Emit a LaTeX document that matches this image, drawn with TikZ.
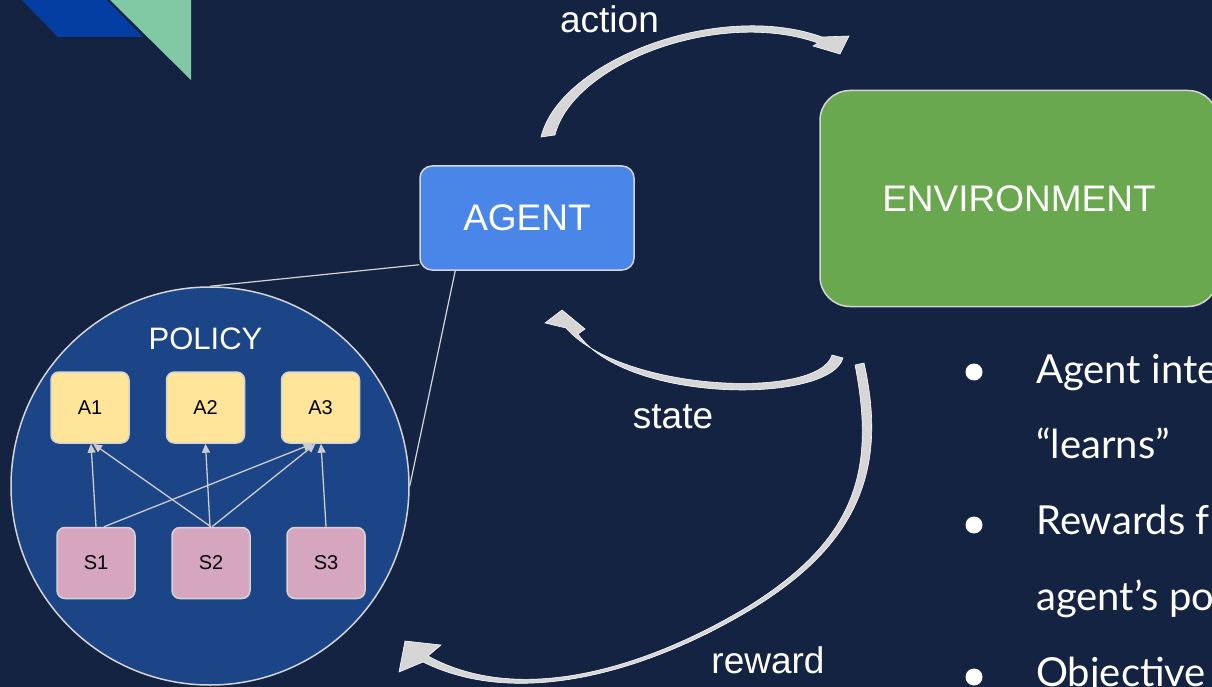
\documentclass[tikz,border=0pt]{standalone}
\usepackage{fontspec}
\setmainfont{Liberation Sans}
\newfontfamily\latofont{Lato}
\usetikzlibrary{arrows.meta,calc}

\definecolor{bg}{RGB}{21,35,66}
\definecolor{cornerblue}{RGB}{4,62,162}
\definecolor{cornergreen}{RGB}{129,200,164}
\definecolor{agentblue}{RGB}{74,134,232}
\definecolor{envgreen}{RGB}{106,168,79}
\definecolor{policyblue}{RGB}{28,69,135}
\definecolor{ayellow}{RGB}{255,229,153}
\definecolor{spink}{RGB}{213,166,189}
\definecolor{edgegray}{RGB}{212,212,212}
\definecolor{flowgray}{RGB}{204,204,204}
\definecolor{ribbongray}{RGB}{214,214,214}

\begin{document}
\begin{tikzpicture}[x=1pt,y=-1pt,
  bigfont/.style={font=\fontsize{37}{44}\selectfont},
  labeltext/.style={bigfont, text=white, inner sep=0pt},
  bigbox/.style={draw=edgegray, line width=1.5pt, text=white, inner sep=0pt, bigfont},
  agentbox/.style={bigbox, fill=agentblue, rounded corners=12pt,
    minimum width=214pt, minimum height=104pt},
  envbox/.style={bigbox, fill=envgreen, rounded corners=30pt,
    minimum width=398pt, minimum height=216pt},
  policycircle/.style={circle, draw=edgegray, line width=1.5pt, fill=policyblue,
    minimum size=398pt, inner sep=0pt},
  smallbox/.style={draw=edgegray, line width=1.5pt, rounded corners=8pt,
    minimum width=78pt, minimum height=71pt, inner sep=0pt, text=black,
    font=\fontsize{20}{24}\selectfont},
  actionbox/.style={smallbox, fill=ayellow},
  statebox/.style={smallbox, fill=spink},
  flow/.style={draw=flowgray, line width=1.3pt, -{Triangle[length=9pt,width=8pt]}},
  callout/.style={draw=edgegray, line width=1.2pt},
  ribbon/.style={fill=ribbongray, draw=white!92!ribbongray, line width=0.6pt},
  bullettext/.style={text=white, inner sep=0pt, anchor=base west,
    font=\latofont\fontsize{40}{48}\selectfont}
]
\useasboundingbox (0,0) rectangle (1212,687);
\fill[bg] (0,0) rectangle (1212,687);

\begin{scope}
\clip (0,0) rectangle (1212,687);

% corner decoration
\fill[cornerblue] (22,0) -- (107,0) -- (143,37) -- (58,37) -- cycle;
\fill[cornergreen] (110,0) -- (191,0) -- (191,80) -- cycle;

% main blocks
\node[agentbox] (agent) at (527,218) {AGENT};
\node[envbox] (env) at (1019,198.5) {ENVIRONMENT};

% policy detail
\node[policycircle] (policy) at (210,486) {};
\node[labeltext, anchor=base] (policylabel) at (205.5,349)
  {\fontsize{31}{37}\selectfont POLICY};

\node[actionbox] (a1) at (90,407.5) {A1};
\node[actionbox] (a2) at (205.5,407.5) {A2};
\node[actionbox] (a3) at (320.5,407.5) {A3};
\node[statebox] (s1) at (96,563) {S1};
\node[statebox] (s2) at (211,563) {S2};
\node[statebox] (s3) at (326,563) {S3};

\draw[flow] (s1.north) -- ($(a1.south)+(1,0)$);
\draw[flow] (s2.north) -- ($(a1.south)+(3,0)$);
\draw[flow] ($(s2.north)+(-1,0)$) -- (a2.south);
\draw[flow] ($(s1.north)+(8,0)$) -- ($(a3.south)+(-8,0)$);
\draw[flow] ($(s2.north)+(1,0)$) -- ($(a3.south)+(-5,0)$);
\draw[flow] (s3.north) -- ($(a3.south)+(0.5,0)$);

% zoom lines from the agent to its policy
\draw[callout] ($(agent.south west)+(0,-6)$) -- (policy.north);
\draw[callout] ($(agent.south west)+(36,0)$) -- (policy.east);

% action ribbon
\path[ribbon] (541,137) .. controls (560,60) and (720,0) .. (822,37)
  -- (849,36) -- (840,54) -- (813,46) -- (818,43)
  .. controls (720,8) and (573,63) .. (555,135) -- cycle;

% state ribbon
\path[ribbon] (843,358) .. controls (830,404) and (627,404) .. (578,334)
  -- (585,329) -- (562,310) -- (545,323) -- (566,328)
  .. controls (622,392) and (819,400) .. (832,355) -- cycle;

% reward ribbon
\path[ribbon] (864,363) .. controls (888,470) and (858,545) .. (750,610)
  .. controls (650,670) and (520,710) .. (423,662)
  -- (399,672) -- (405,641) -- (441,645) -- (428,656)
  .. controls (521,707) and (648,667) .. (748,606.6)
  .. controls (855,540) and (876,472) .. (855,365) -- cycle;

% ribbon labels
\node[labeltext, anchor=base] (actionlabel) at (609.5,33) {action};
\node[labeltext, anchor=base] (statelabel) at (673,428) {state};
\node[labeltext, anchor=base] (rewardlabel) at (768,673) {reward};

% bullet list
\fill[white] (974,372) circle (8.5pt);
\fill[white] (974,525) circle (8.5pt);
\fill[white] (974,677) circle (8.5pt);
\node[bullettext] (line1) at (1036,383) {Agent inte};
\node[bullettext] (line2) at (1036,458) {“learns”};
\node[bullettext] (line3) at (1036,534) {Rewards f};
\node[bullettext] (line4) at (1036,610) {agent’s po};
\node[bullettext] (line5) at (1036,686) {Objective};
\end{scope}
\end{tikzpicture}
\end{document}
